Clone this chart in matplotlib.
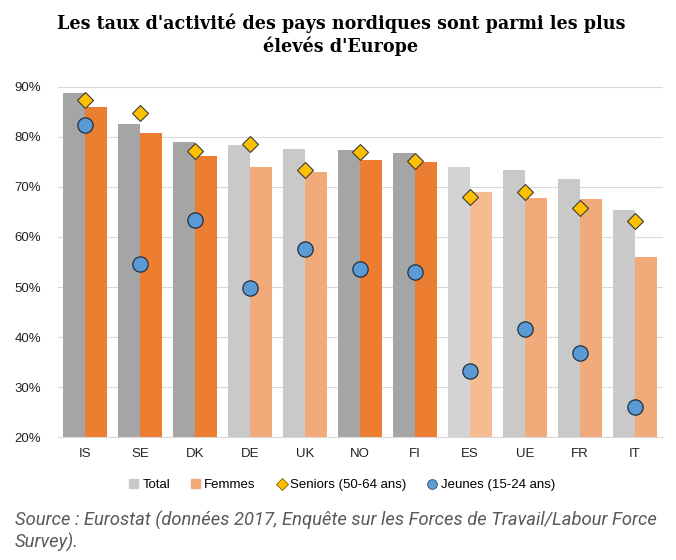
import numpy as np
import matplotlib
matplotlib.use("Agg")
import matplotlib.pyplot as plt
from matplotlib.lines import Line2D
from matplotlib.patches import Patch

# data (%)
pays = ["IS", "SE", "DK", "DE", "UK", "NO", "FI", "ES", "UE", "FR", "IT"]
total = [88.8, 82.6, 78.9, 78.3, 77.6, 77.3, 76.7, 73.9, 73.3, 71.5, 65.4]
femmes = [85.9, 80.8, 76.1, 74.0, 72.9, 75.3, 74.9, 68.9, 67.7, 67.5, 55.9]
seniors = [87.3, 84.7, 77.1, 78.5, 73.4, 77.0, 75.1, 67.9, 68.9, 65.7, 63.2]
jeunes = [82.3, 54.7, 63.3, 49.8, 57.6, 53.7, 53.1, 33.2, 41.7, 36.8, 26.1]
nordiques = ["IS", "SE", "DK", "NO", "FI"]

col_total = []
col_femmes = []
for p in pays:
    if p in nordiques:
        col_total.append("#A5A5A5")
        col_femmes.append("#ED7D31")
    elif p == "ES":
        col_total.append("#D3D3D3")
        col_femmes.append("#F5BC92")
    else:
        col_total.append("#C9C9C9")
        col_femmes.append("#F1AB7A")

fig = plt.figure(figsize=(6.76, 5.6), dpi=100)
ax = fig.add_axes([57.5 / 676, 1 - 437.3 / 560, 605 / 676, 350.6 / 560])

x = np.arange(len(pays))
w = 0.4
ax.bar(x - w / 2, total, w, color=col_total, zorder=2)
ax.bar(x + w / 2, femmes, w, color=col_femmes, zorder=2)
ax.plot(x, seniors, "D", color="#FFC000", markeredgecolor="#3A3A3A",
        markeredgewidth=0.8, markersize=8, linestyle="none", zorder=4)
ax.plot(x, jeunes, "o", color="#5B9BD5", markeredgecolor="#1F2F40",
        markeredgewidth=0.9, markersize=11, linestyle="none", zorder=4)

ax.set_xlim(-0.5, len(pays) - 0.5)
ax.set_ylim(20, 90)
ax.set_yticks(range(20, 91, 10))
ax.set_yticklabels([f"{v}%" for v in range(20, 91, 10)])
ax.set_xticks(x)
ax.set_xticklabels(pays)
ax.grid(axis="y", color="#D9D9D9", linewidth=0.8, zorder=0)
for s in ["top", "right", "left"]:
    ax.spines[s].set_visible(False)
ax.spines["bottom"].set_color("#D9D9D9")
ax.tick_params(axis="both", length=0, labelsize=9.5, labelcolor="#222222",
               labelfontfamily="Liberation Sans")
ax.tick_params(axis="y", pad=12)
ax.tick_params(axis="x", pad=8)

handles = [
    Patch(color="#C9C9C9", label="Total"),
    Patch(color="#F1AB7A", label="Femmes"),
    Line2D([], [], marker="D", color="#FFC000", markeredgecolor="#7F6000",
           markeredgewidth=0.6, markersize=6, linestyle="none",
           label="Seniors (50-64 ans)"),
    Line2D([], [], marker="o", color="#5B9BD5", markeredgecolor="#2F4F70",
           markeredgewidth=0.6, markersize=7, linestyle="none",
           label="Jeunes (15-24 ans)"),
]
fig.legend(handles=handles, loc="center", bbox_to_anchor=(342 / 676, 1 - 485 / 560),
           ncol=4, frameon=False, handlelength=0.7, handleheight=0.7,
           handletextpad=0.3, columnspacing=1.6,
           prop={"family": "Liberation Sans", "size": 9.5})

fig.text(341 / 676, 1 - 35 / 560,
         "Les taux d'activité des pays nordiques sont parmi les plus\nélevés d'Europe",
         ha="center", va="center", fontsize=14, fontweight="bold",
         fontstretch="condensed", family="DejaVu Serif", linespacing=1.2)

fig.text(15 / 676, 1 - 531 / 560,
         "Source : Eurostat (données 2017, Enquête sur les Forces de Travail/Labour Force\nSurvey).",
         ha="left", va="center", fontsize=13.2, style="italic", color="#595959",
         family="Roboto", linespacing=1.2)

fig.savefig("out.png", dpi=100)
